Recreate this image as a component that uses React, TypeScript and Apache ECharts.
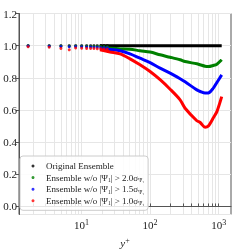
import React, { useEffect, useRef } from "react";
import * as echarts from "echarts";

// Near-wall grid points (drawn as separate dots)
const nearWallYPlus = [1.67, 3.39, 5.02, 6.64, 8.23, 10.07, 11.9, 13.6, 15.2, 17.0, 19.1, 21.3, 23.8];
const nearOriginal = [1.0, 1.0, 1.0, 1.0, 1.0, 1.0, 1.0, 1.0, 1.0, 1.0, 1.0, 1.0, 1.0];
const nearGreen = [0.999, 0.998, 0.997, 0.996, 0.997, 0.996, 0.996, 0.995, 0.995, 0.995, 0.994, 0.994, 0.993];
const nearBlue = [0.998, 0.996, 0.995, 0.993, 0.994, 0.993, 0.992, 0.991, 0.99, 0.99, 0.989, 0.988, 0.987];
const nearRed = [0.993, 0.99, 0.983, 0.974, 0.985, 0.984, 0.983, 0.982, 0.982, 0.981, 0.98, 0.979, 0.977];

// Dense region (points merge into a continuous curve)
const denseYPlus = [18.6, 26.1, 36.5, 51, 71.4, 100, 140, 196, 274, 324, 480, 537, 633, 708, 835, 941, 1106];
const denseOriginal = [1.0, 1.0, 1.0, 1.0, 1.0, 1.0, 1.0, 1.0, 1.0, 1.0, 1.0, 1.0, 1.0, 1.0, 1.0, 1.0, 1.0];
const denseGreen = [0.984, 0.984, 0.98, 0.978, 0.968, 0.96, 0.943, 0.928, 0.912, 0.901, 0.887, 0.881, 0.872, 0.87, 0.877, 0.885, 0.912];
const denseBlue = [0.978, 0.976, 0.968, 0.949, 0.922, 0.895, 0.86, 0.829, 0.794, 0.775, 0.725, 0.715, 0.705, 0.706, 0.736, 0.771, 0.818];
const denseRed = [0.974, 0.961, 0.949, 0.918, 0.881, 0.839, 0.788, 0.729, 0.663, 0.611, 0.533, 0.522, 0.493, 0.501, 0.551, 0.59, 0.683];

const seriesNames = [
  "Original Ensemble",
  "Ensemble w/o |Ψ1| > 2.0σΨ1",
  "Ensemble w/o |Ψ1| > 1.5σΨ1",
  "Ensemble w/o |Ψ1| > 1.0σΨ1",
];
const seriesColors = ["#000000", "#008000", "#0000ff", "#ff0000"];

const xMajorTicks = [10, 100, 1000];
const xMinorTicks = [2, 3, 4, 5, 6, 7, 8, 9, 20, 30, 40, 50, 60, 70, 80, 90, 200, 300, 400, 500, 600, 700, 800, 900];

const FONT = "Liberation Serif";

export default function App() {
  const ref = useRef<HTMLDivElement>(null);
  useEffect(() => {
    if (!ref.current) return;
    const chart = echarts.init(ref.current, null, { renderer: "svg" });
    const nearSets = [nearOriginal, nearGreen, nearBlue, nearRed];
    const denseSets = [denseOriginal, denseGreen, denseBlue, denseRed];
    const series: any[] = [];
    for (let i = 0; i < 4; i++) {
      series.push({
        type: "scatter",
        name: seriesNames[i],
        data: nearWallYPlus.map((x, k) => [x, nearSets[i][k]]),
        symbol: "circle",
        symbolSize: 3,
        itemStyle: { color: seriesColors[i] },
        z: 3 + i,
      });
      series.push({
        type: "line",
        name: seriesNames[i],
        data: denseYPlus.map((x, k) => [x, denseSets[i][k]]),
        showSymbol: false,
        smooth: 0.3,
        lineStyle: { color: seriesColors[i], width: 3 },
        itemStyle: { color: seriesColors[i] },
        z: 3 + i,
      });
    }
    const legendFormatter = (name: string) => {
      if (name === seriesNames[0]) return name;
      const m = name.match(/> ([0-9.]+)σ/);
      return `Ensemble w/o |Ψ{sub|1}| > ${m ? m[1] : ""}σ{sub|Ψ₁}`;
    };
    chart.setOption({
      animation: false,
      grid: { left: 19, right: 9, top: 13.5, bottom: 35.5, show: true, borderColor: "#555", borderWidth: 1, outerBoundsMode: "none" },
      legend: {
        left: 20,
        top: 156,
        orient: "vertical",
        padding: [4.5, 4, 4, 11.5],
        itemGap: 0.6,
        itemWidth: 3,
        itemHeight: 3,
        backgroundColor: "rgba(255,255,255,0.85)",
        borderColor: "#cccccc",
        borderWidth: 1,
        borderRadius: 3,
        data: seriesNames.map((n, i) => ({ name: n, icon: "circle", itemStyle: { color: seriesColors[i] } })),
        formatter: legendFormatter,
        textStyle: {
          fontFamily: FONT,
          fontSize: 9,
          color: "#222",
          lineHeight: 11,
          padding: [0, 0, 0, 6.5],
          rich: {
            sub: { fontFamily: FONT, fontSize: 5.5, lineHeight: 6, verticalAlign: "bottom", color: "#222" },
          },
        },
        selectedMode: false,
      },
      xAxis: {
        type: "log",
        logBase: 10,
        min: 1.23,
        max: 1511,
        name: "{it|y}{sup|+}",
        nameLocation: "middle",
        nameGap: 11,
        nameTextStyle: {
          fontFamily: FONT,
          fontSize: 11,
          color: "#222",
          rich: {
            it: { fontFamily: FONT, fontSize: 11, fontStyle: "italic", lineHeight: 13, color: "#222" },
            sup: { fontFamily: FONT, fontSize: 8, lineHeight: 8, verticalAlign: "top", color: "#222" },
          },
        },
        axisLine: { show: true, lineStyle: { color: "#555", width: 1 } },
        axisTick: { show: true, inside: true, length: 3, customValues: [...xMajorTicks, ...xMinorTicks], lineStyle: { color: "#555" } },
        axisLabel: {
          customValues: xMajorTicks,
          margin: 4,
          formatter: (v: number) => `10{sup|${Math.round(Math.log10(v))}}`,
          fontFamily: FONT,
          fontSize: 11,
          color: "#222",
          lineHeight: 13,
          rich: {
            sup: { fontFamily: FONT, fontSize: 8, lineHeight: 8, verticalAlign: "top", color: "#222" },
          },
        },
        splitLine: { show: true, lineStyle: { color: "#e6e6e6", width: 1 } },
      },
      yAxis: {
        type: "value",
        min: -0.05,
        max: 1.2,
        splitNumber: 6,
        minInterval: 0.2,
        maxInterval: 0.2,
        axisLine: { show: true, lineStyle: { color: "#555", width: 1 } },
        axisTick: { show: true, inside: false, length: 3, lineStyle: { color: "#555" } },
        axisLabel: {
          showMinLabel: false,
          margin: 2,
          formatter: (v: number) => v.toFixed(1),
          fontFamily: FONT,
          fontSize: 11,
          color: "#222",
        },
        splitLine: { show: true, lineStyle: { color: "#e6e6e6", width: 1 } },
      },
      series,
    });
    return () => chart.dispose();
  }, []);
  return <div ref={ref} style={{ position: "fixed", left: 0, top: 0, width: 240, height: 250 }} />;
}
